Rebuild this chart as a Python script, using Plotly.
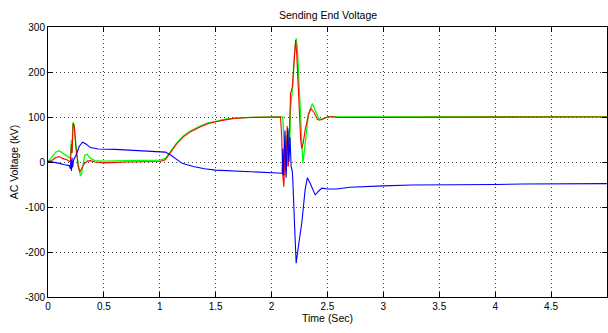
import plotly.graph_objects as go

# ---- data (time in s, voltage in kV) ----
blue_t = [0, 0.05, 0.1, 0.15, 0.19, 0.2, 0.205, 0.21, 0.215, 0.22, 0.23, 0.25, 0.28, 0.31, 0.34, 0.38,
          0.45, 0.6, 0.8, 1.0, 1.05, 1.1, 1.15, 1.2, 1.3, 1.4, 1.5, 1.7, 1.9, 2.08, 2.095, 2.10, 2.105,
          2.12, 2.13, 2.145, 2.155, 2.165, 2.175, 2.185, 2.19, 2.205, 2.22, 2.225, 2.25, 2.27,
          2.30, 2.32, 2.35, 2.39, 2.42, 2.45, 2.5, 2.58, 2.7, 2.85, 3.0, 3.25, 3.5, 3.75, 4.0, 4.25,
          4.5, 4.75, 5.0]
blue_v = [2, 0, -3, -6, -8, -15, 5, -20, 10, -12, 5, 15, 35, 44, 40, 32,
          29, 28, 25, 22, 22, 15, 5, -3, -10, -15, -18, -20, -22, -24, -25, 30, -30,
          70, -35, 75, 0, 55, -10, -20, -40, -136, -225, -215, -170, -136,
          -62, -35, -50, -73, -65, -58, -60, -60, -56, -54, -53, -51, -51, -50, -50, -49,
          -49, -48, -48]

red_t = [0, 0.03, 0.07, 0.1, 0.13, 0.17, 0.2, 0.21, 0.215, 0.225, 0.235, 0.25, 0.27, 0.285, 0.3,
         0.32, 0.35, 0.38, 0.42, 0.5, 0.7, 0.9, 1.0, 1.05, 1.09, 1.15, 1.21, 1.28, 1.36, 1.43, 1.51,
         1.58, 1.66, 1.8, 2.0, 2.08, 2.09, 2.10, 2.11, 2.12, 2.13, 2.14, 2.15, 2.16, 2.17, 2.185,
         2.2, 2.215, 2.225, 2.24, 2.26, 2.27, 2.285, 2.30, 2.33, 2.35, 2.38, 2.41, 2.43, 2.47, 2.52,
         2.6, 3.0, 4.0, 5.0]
red_v = [0, 3, 10, 12, 8, 5, 0, 40, 20, 85, 80, 30, -10, -22, -15,
         -5, 2, 3, 0, -2, 0, 0, 1, 5, 19, 40, 56, 68, 78, 85, 90,
         94, 97, 99, 100, 100, 60, -30, -55, 40, -20, 80, -10, 100, 153, 165,
         230, 271, 240, 150, 50, 30, 45, 71, 105, 119, 110, 95, 93, 97, 101,
         99, 99, 99, 100]

green_t = [0, 0.03, 0.07, 0.1, 0.13, 0.17, 0.2, 0.21, 0.215, 0.222, 0.232, 0.25, 0.27, 0.29, 0.30,
           0.31, 0.33, 0.35, 0.38, 0.42, 0.5, 0.7, 0.9, 1.0, 1.05, 1.09, 1.15, 1.21, 1.28, 1.36,
           1.43, 1.51, 1.58, 1.66, 1.8, 2.0, 2.1, 2.11, 2.12, 2.13, 2.14, 2.15, 2.16, 2.17, 2.18,
           2.19, 2.205, 2.22, 2.23, 2.25, 2.27, 2.28, 2.3, 2.33, 2.365, 2.39, 2.42, 2.45, 2.5, 2.6,
           3.0, 4.0, 5.0]
green_v = [0, 10, 22, 25, 20, 12, 8, 50, 20, 88, 85, 40, -5, -30, -28,
           -10, 15, 17, 8, 3, 2, 3, 3, 4, 8, 22, 42, 58, 70, 80,
           87, 91, 95, 97, 99, 100, 100, 50, -30, 60, -10, 70, 20, 120, 150,
           170, 240, 275, 255, 150, 30, -3, 40, 105, 130, 115, 97, 94, 101, 100,
           100, 101, 101]

x_ticks = [0, 0.5, 1, 1.5, 2, 2.5, 3, 3.5, 4, 4.5, 5]
x_labels = ["0", "0.5", "1", "1.5", "2", "2.5", "3", "3.5", "4", "4.5", "5"]
y_ticks = [-300, -200, -100, 0, 100, 200, 300]
y_labels = ["-300", "-200", "-100", "0", "100", "200", "300"]

FONT = "Arial, Liberation Sans"

fig = go.Figure()
fig.add_trace(go.Scatter(x=green_t, y=green_v, mode="lines",
                         line=dict(color="#00ff00", width=1.3), showlegend=False))
fig.add_trace(go.Scatter(x=red_t, y=red_v, mode="lines",
                         line=dict(color="#ff0000", width=1.1), showlegend=False))
fig.add_trace(go.Scatter(x=blue_t, y=blue_v, mode="lines",
                         line=dict(color="#0000ff", width=1.1), showlegend=False))

axis_common = dict(showline=True, linecolor="black", linewidth=1, mirror="ticks",
                   ticks="inside", ticklen=5, tickcolor="black", automargin=False,
                   showgrid=True, gridcolor="#444444", gridwidth=1, griddash="1px,3px",
                   zeroline=False, tickfont=dict(family=FONT, size=10, color="black"))

fig.update_layout(
    width=608, height=333,
    margin=dict(l=48, r=1, t=27, b=36),
    paper_bgcolor="white", plot_bgcolor="white",
    xaxis=dict(range=[0, 5.0005], tickvals=x_ticks, ticktext=x_labels,
               title=dict(text="Time (Sec)", standoff=0,
                          font=dict(family=FONT, size=10.5, color="black")),
               **axis_common),
    yaxis=dict(range=[-300, 300], tickvals=y_ticks, ticktext=y_labels,
               title=dict(text="AC Voltage (kV)", standoff=4,
                          font=dict(family=FONT, size=10.5, color="black")),
               **axis_common),
)
fig.add_annotation(text="Sending End Voltage", xref="paper", yref="paper", x=0.5, y=1,
                   xanchor="center", yanchor="bottom", yshift=4, showarrow=False,
                   font=dict(family=FONT, size=10.5, color="black"))

fig.write_html("out.html", config={"displayModeBar": False},
               post_script="document.body.style.margin='0';document.body.style.overflow='hidden';")
